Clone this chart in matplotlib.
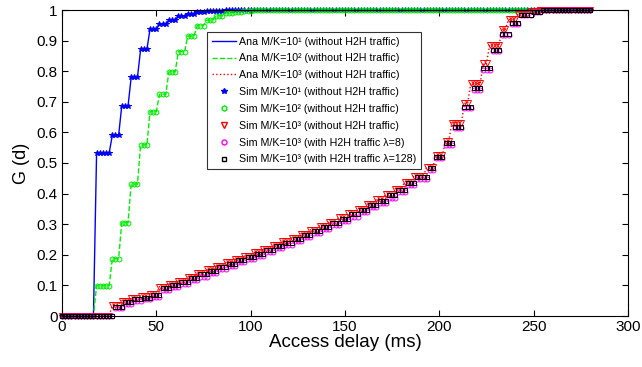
import numpy as np
import matplotlib
matplotlib.use("Agg")
import matplotlib.pyplot as plt
from matplotlib.lines import Line2D

plt.rcParams["font.family"] = ["Liberation Sans", "DejaVu Sans"]

# Sampling grid of the simulated/analytical CDFs (ms)
delay_max = 280
delay_step = 5 / 3

# Staircase data: delay (ms) at which each level starts, and G(d) level
blue_start = [0, 17.5, 26.5, 31.5, 36.5, 41.5, 46.5, 51.5, 56.5, 61.5, 66.5, 71.5, 76.5, 81.5, 86.5, 93]
blue_level = [0, 0.533, 0.590, 0.686, 0.780, 0.871, 0.938, 0.953, 0.967, 0.980, 0.988, 0.993, 0.996, 0.998, 0.999, 1.0]

green_start = [0, 17.5, 26.5, 31.5, 36.5, 41.5, 46.5, 51.5, 56.5, 61.5, 66.5, 71.5, 76.5, 81.5, 86.5, 91.5, 96.5, 101.5]
green_level = [0, 0.099, 0.187, 0.305, 0.431, 0.559, 0.668, 0.725, 0.798, 0.864, 0.915, 0.949, 0.967, 0.981, 0.990, 0.995, 0.998, 1.0]

red_start = [0, 25.5, 31, 36, 41, 46, 51.5, 56, 61, 66, 71, 76, 81, 86, 91, 96, 101, 106, 111, 116,
             121, 126, 131, 136, 141, 146, 151, 156, 161, 166, 171, 176, 181.5, 186.5, 192.5, 197, 202,
             206.5, 212, 216.5, 222, 226.5, 232, 236, 241.5, 248, 253]
red_level = [0, 0.036, 0.050, 0.058, 0.064, 0.073, 0.096, 0.105, 0.116, 0.128, 0.140, 0.152, 0.164, 0.175,
             0.186, 0.197, 0.208, 0.220, 0.232, 0.244, 0.256, 0.269, 0.282, 0.295, 0.308, 0.322, 0.336,
             0.351, 0.366, 0.382, 0.399, 0.416, 0.439, 0.459, 0.488, 0.527, 0.572, 0.632, 0.695, 0.760,
             0.826, 0.886, 0.937, 0.969, 0.988, 0.996, 1.0]

h2h_start = [0, 27.5, 32.5, 37.5, 42.5, 47.5, 53, 57.5, 62.5, 67.5, 72.5, 77.5, 82.5, 87.5, 92.5, 97.5,
             102.5, 107.5, 112.5, 117.5, 122.5, 127.5, 132.5, 137.5, 142.5, 147.5, 152.5, 157.5, 162.5,
             167.5, 172.5, 177.5, 183, 188, 193.5, 198, 203, 208, 213, 217.5, 223, 227.5, 233, 237,
             242.5, 249, 254]
h2h8_level = [0, 0.026, 0.040, 0.048, 0.054, 0.062, 0.085, 0.094, 0.105, 0.117, 0.129, 0.141, 0.153, 0.164,
              0.175, 0.186, 0.197, 0.209, 0.221, 0.233, 0.245, 0.258, 0.271, 0.284, 0.297, 0.311, 0.325,
              0.340, 0.355, 0.370, 0.387, 0.404, 0.427, 0.447, 0.478, 0.516, 0.560, 0.614, 0.680, 0.740,
              0.805, 0.866, 0.919, 0.954, 0.983, 0.994, 1.0]
h2h128_level = [0, 0.030, 0.046, 0.054, 0.060, 0.068, 0.092, 0.101, 0.112, 0.124, 0.136, 0.148, 0.160, 0.171,
                0.182, 0.193, 0.204, 0.216, 0.228, 0.240, 0.252, 0.265, 0.278, 0.291, 0.304, 0.318, 0.332,
                0.347, 0.362, 0.377, 0.394, 0.411, 0.434, 0.453, 0.483, 0.521, 0.564, 0.619, 0.684, 0.744,
                0.809, 0.869, 0.922, 0.956, 0.984, 0.994, 1.0]

legend_labels = [
    "Ana M/K=10¹ (without H2H traffic)",
    "Ana M/K=10² (without H2H traffic)",
    "Ana M/K=10³ (without H2H traffic)",
    "Sim M/K=10¹ (without H2H traffic)",
    "Sim M/K=10² (without H2H traffic)",
    "Sim M/K=10³ (without H2H traffic)",
    "Sim M/K=10³ (with H2H traffic λ=8)",
    "Sim M/K=10³ (with H2H traffic λ=128)",
]

d = np.linspace(0, delay_max, int(round(delay_max / delay_step)) + 1)


def sample(starts, levels):
    idx = np.searchsorted(np.asarray(starts), d, side="right") - 1
    return np.asarray(levels)[idx]


g_blue = sample(blue_start, blue_level)
g_green = sample(green_start, green_level)
g_red = sample(red_start, red_level)
g_h8 = sample(h2h_start, h2h8_level)
g_h128 = sample(h2h_start, h2h128_level)

fig = plt.figure(figsize=(6.42, 3.67), dpi=100)
ax = fig.add_axes([62 / 642, 51 / 367, 566 / 642, 306 / 367])

BLUE, GREEN, RED, MAG = "#0000ff", "#00ee00", "#ff0000", "#ff00ff"

ax.plot(d, g_blue, "-", color=BLUE, lw=1.0)
ax.plot(d, g_green, "--", color=GREEN, lw=1.0)
ax.plot(d, g_red, ":", color=RED, lw=1.0)

mk = dict(linestyle="none", clip_on=False)
ax.plot(d, g_blue, marker="*", color=BLUE, ms=4, mew=0.7, **mk)
ax.plot(d, g_green, marker="h", color=GREEN, mfc="none", ms=3.8, mew=0.7, **mk)
ax.plot(d, g_red, marker="v", color=RED, mfc="none", ms=4.2, mew=0.7, **mk)
ax.plot(d, g_h8, marker="o", color=MAG, mfc="none", ms=3.6, mew=0.7, **mk)
ax.plot(d, g_h128, marker="s", color="black", mfc="none", ms=3.4, mew=0.7, **mk)

ax.set_xlim(0, 300)
ax.set_ylim(0, 1)
ax.set_xticks(np.arange(0, 301, 50))
ax.set_yticks(np.round(np.arange(0, 1.01, 0.1), 1))
ax.set_yticklabels(["0", "0.1", "0.2", "0.3", "0.4", "0.5", "0.6", "0.7", "0.8", "0.9", "1"])
ax.tick_params(direction="in", top=True, right=True, length=4, width=0.8, labelsize=11, pad=3)
for s in ax.spines.values():
    s.set_linewidth(0.8)

ax.set_xlabel("Access delay (ms)", fontsize=13.5, labelpad=0)
ax.set_ylabel("G (d)", fontsize=13, labelpad=5)

handles = [
    Line2D([], [], color=BLUE, ls="-", lw=1.0),
    Line2D([], [], color=GREEN, ls="--", lw=1.0),
    Line2D([], [], color=RED, ls=":", lw=1.0),
    Line2D([], [], color=BLUE, ls="none", marker="*", ms=4),
    Line2D([], [], color=GREEN, ls="none", marker="h", mfc="none", ms=3.8),
    Line2D([], [], color=RED, ls="none", marker="v", mfc="none", ms=4.2),
    Line2D([], [], color=MAG, ls="none", marker="o", mfc="none", ms=3.6),
    Line2D([], [], color="black", ls="none", marker="s", mfc="none", ms=3.4),
]
leg = ax.legend(handles, legend_labels, loc="upper left", bbox_to_anchor=(0.256, 0.929),
                fontsize=7.7, frameon=True, fancybox=False, edgecolor="black",
                labelspacing=0.64, handlelength=2.3, handletextpad=0.25, borderpad=0.45,
                borderaxespad=0)
leg.get_frame().set_linewidth(0.8)

fig.savefig("out.png", dpi=100)
